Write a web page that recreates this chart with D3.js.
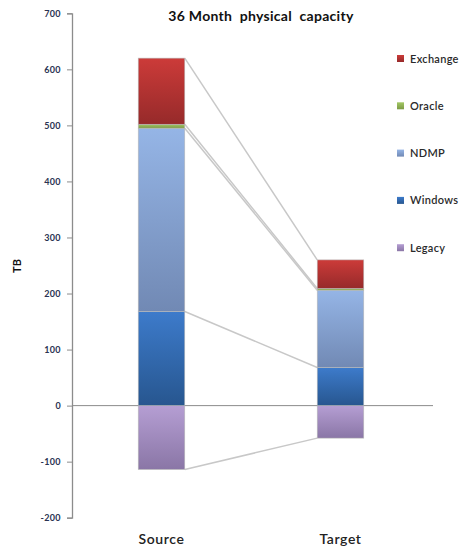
<!DOCTYPE html>
<html>
<head>
<meta charset="utf-8">
<script src="https://cdn.jsdelivr.net/npm/d3@7"></script>
<style>
  body { margin: 0; background: #fff; }
  text { font-family: Lato, "Open Sans", sans-serif; }
</style>
</head>
<body>
<svg id="chart"></svg>
<script>
// data
const categories = ["Source", "Target"];
const seriesNames = ["Legacy", "Windows", "NDMP", "Oracle", "Exchange"];
const legacy   = [-114, -58];
const windows  = [168, 68];
const ndmp     = [327, 138];
const oracle   = [7, 3];
const exchange = [118, 51];
const yTicks = [-200, -100, 0, 100, 200, 300, 400, 500, 600, 700];

const width = 465, height = 549;
const colors = {
  Exchange: ["#cc3b39", "#962a2a"],
  Oracle:   ["#a3c865", "#7c9a44"],
  NDMP:     ["#95b5e6", "#7189b4"],
  Windows:  ["#3d7bcb", "#27568f"],
  Legacy:   ["#b59ed3", "#8a76a6"]
};

const svg = d3.select("#chart").attr("width", width).attr("height", height);
const defs = svg.append("defs");
seriesNames.forEach(s => {
  const g = defs.append("linearGradient").attr("id", "grad-" + s)
    .attr("x1", 0).attr("y1", 0).attr("x2", 0).attr("y2", 1);
  g.append("stop").attr("offset", "0%").attr("stop-color", colors[s][0]);
  g.append("stop").attr("offset", "100%").attr("stop-color", colors[s][1]);
});

const x = d3.scaleBand().domain(categories).range([72, 430]);
const y = d3.scaleLinear().domain([-200, 700]).range([517.7, 13.3]);
const barW = x.bandwidth() * 0.26;

// stacked segments
const values = { Legacy: legacy, Windows: windows, NDMP: ndmp, Oracle: oracle, Exchange: exchange };
const segs = [];
categories.forEach((c, i) => {
  let pos = 0;
  seriesNames.forEach(s => {
    const v = values[s][i];
    if (v < 0) {
      segs.push({ cat: c, s, y0: v, y1: 0 });
    } else {
      segs.push({ cat: c, s, y0: pos, y1: pos + v });
      pos += v;
    }
  });
});

// y axis
const axis = svg.append("g").attr("transform", "translate(72,0)")
  .call(d3.axisLeft(y).tickValues(yTicks).tickFormat(d => String(d)).tickSize(5).tickPadding(6));
axis.select(".domain").attr("stroke", "#8c8c8c").attr("stroke-width", 1.3);
axis.selectAll(".tick line").attr("stroke", "#8c8c8c");
axis.selectAll(".tick text").attr("fill", "#2a3352")
  .style("font-size", "9px").style("font-weight", "bold").style("letter-spacing", "0.4px");

// zero line
svg.append("line")
  .attr("x1", 72).attr("x2", 433).attr("y1", y(0)).attr("y2", y(0))
  .attr("stroke", "#8c8c8c").attr("stroke-width", 1);

// connector lines
const src = segs.filter(d => d.cat === "Source");
const tgt = segs.filter(d => d.cat === "Target");
const links = [];
src.forEach((d, i) => {
  const t = tgt[i];
  if (d.s === "Legacy") links.push([d.y0, t.y0]);
  else links.push([d.y1, t.y1]);
});
svg.append("g").selectAll("line").data(links).join("line")
  .attr("x1", x("Source") + x.bandwidth() / 2 + barW / 2)
  .attr("x2", x("Target") + x.bandwidth() / 2 - barW / 2)
  .attr("y1", d => y(d[0]))
  .attr("y2", d => y(d[1]))
  .attr("stroke", "#c8c8c8").attr("stroke-width", 1.5);

// bars
svg.append("g").selectAll("rect").data(segs).join("rect")
  .attr("x", d => x(d.cat) + x.bandwidth() / 2 - barW / 2)
  .attr("width", barW)
  .attr("y", d => y(d.y1))
  .attr("height", d => y(d.y0) - y(d.y1))
  .attr("fill", d => "url(#grad-" + d.s + ")")
  .attr("stroke", "#b9b9b9").attr("stroke-width", 0.6);

// category labels
svg.append("g").selectAll("text").data(categories).join("text")
  .attr("x", d => x(d) + x.bandwidth() / 2)
  .attr("y", 544)
  .attr("text-anchor", "middle")
  .attr("fill", "#222")
  .style("font-size", "14px").style("font-weight", "600").style("letter-spacing", "0.6px")
  .text(d => d);

// title
svg.append("text").attr("x", 261).attr("y", 21).attr("text-anchor", "middle")
  .attr("fill", "#111").style("font-size", "14px").style("font-weight", "bold")
  .style("white-space", "pre").style("letter-spacing", "0.3px")
  .text("36 Month  physical  capacity");

// y label
svg.append("text").attr("transform", "translate(21,266) rotate(-90)")
  .attr("text-anchor", "middle").attr("fill", "#111")
  .style("font-size", "11px").style("font-weight", "bold").text("TB");

// legend
const legendOrder = ["Exchange", "Oracle", "NDMP", "Windows", "Legacy"];
const leg = svg.append("g").selectAll("g").data(legendOrder).join("g")
  .attr("transform", (d, i) => `translate(397,${59 + i * 47.3})`);
leg.append("rect").attr("x", 0).attr("y", -4).attr("width", 7).attr("height", 7)
  .attr("fill", d => "url(#grad-" + d + ")");
leg.append("text").attr("x", 13).attr("y", 3.5)
  .attr("fill", "#2a2a2a").style("font-size", "11px").style("font-weight", "600")
  .style("letter-spacing", "0.3px")
  .text(d => d);
</script>
</body>
</html>
